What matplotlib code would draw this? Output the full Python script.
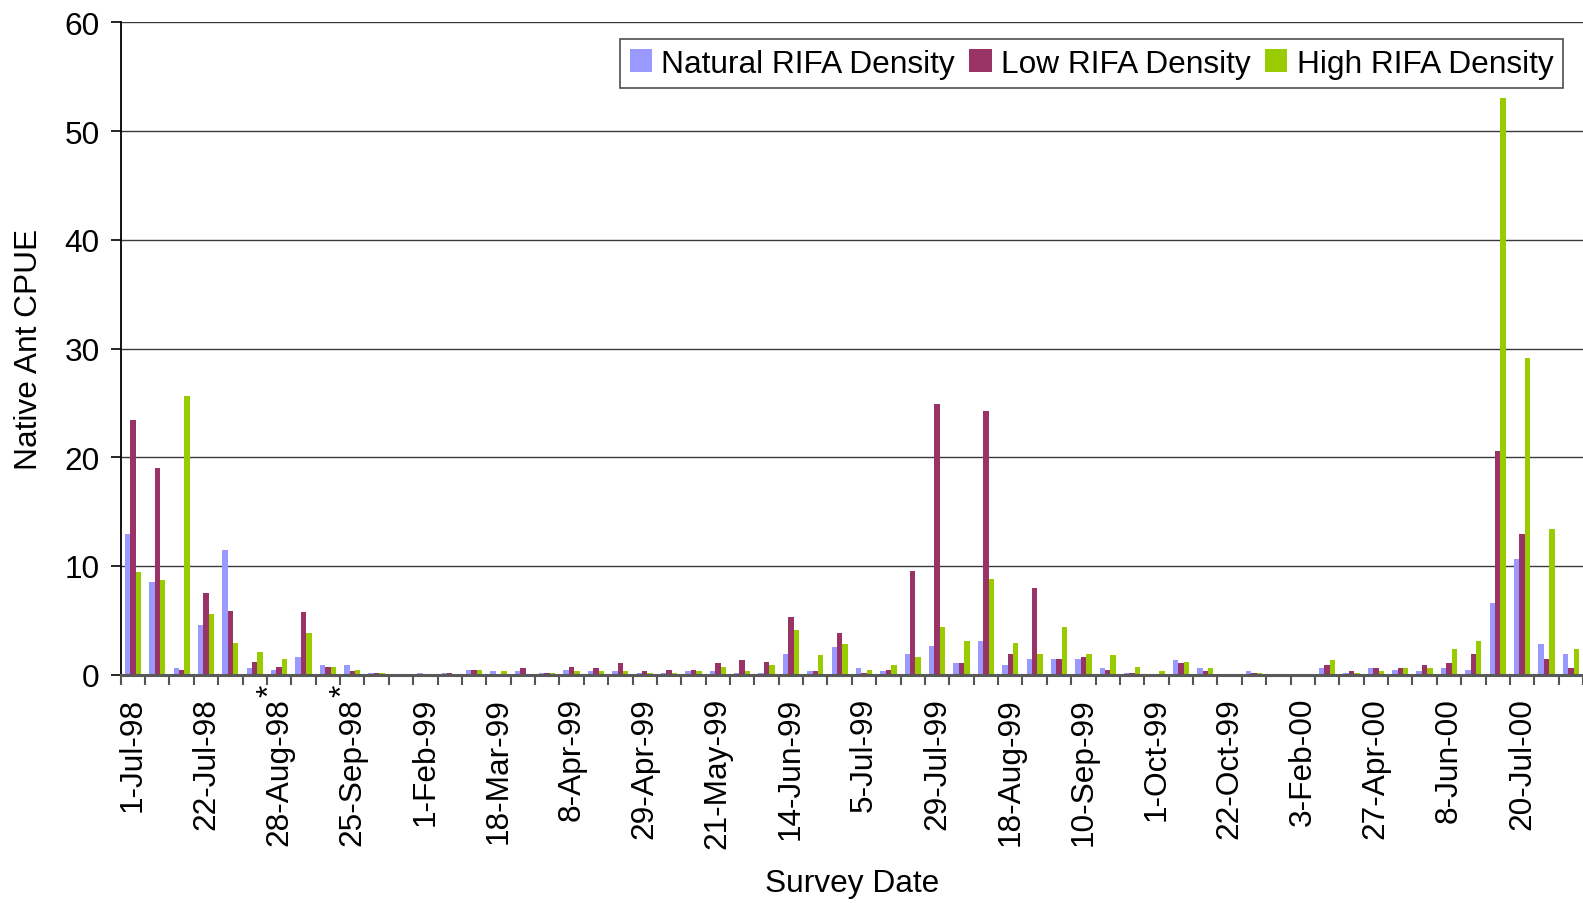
import numpy as np
import matplotlib
matplotlib.use("Agg")
import matplotlib.pyplot as plt
from matplotlib.patches import Patch

plt.rcParams['font.family'] = ['Liberation Sans', 'DejaVu Sans']

# ------------------------------------------------------------------------------
# survey data (native ant CPUE per survey, 60 surveys)
date_labels = ['1-Jul-98', '22-Jul-98', '28-Aug-98', '25-Sep-98', '1-Feb-99',
               '18-Mar-99', '8-Apr-99', '29-Apr-99', '21-May-99', '14-Jun-99',
               '5-Jul-99', '29-Jul-99', '18-Aug-99', '10-Sep-99', '1-Oct-99',
               '22-Oct-99', '3-Feb-00', '27-Apr-00', '8-Jun-00', '20-Jul-00']
label_step = 3  # one date label every 3 surveys
starred = [6, 9]  # surveys marked with an asterisk

natural = [12.9, 8.5, 0.6, 4.6, 11.5, 0.6, 0.4, 1.6, 0.9, 0.9,
           0.15, 0.0, 0.15, 0.15, 0.43, 0.34, 0.34, 0.15, 0.43, 0.34,
           0.34, 0.15, 0.15, 0.34, 0.34, 0.15, 0.15, 1.9, 0.34, 2.55,
           0.61, 0.34, 1.9, 2.64, 1.07, 3.1, 0.89, 1.44, 1.44, 1.44,
           0.61, 0.15, 0.0, 1.35, 0.61, 0.0, 0.34, 0.0, 0.0, 0.61,
           0.15, 0.61, 0.43, 0.34, 0.61, 0.46, 6.62, 10.67, 2.85, 1.9]
low = [23.4, 19.0, 0.4, 7.5, 5.9, 1.2, 0.7, 5.8, 0.7, 0.35,
       0.15, 0.0, 0.0, 0.15, 0.43, 0.0, 0.61, 0.15, 0.7, 0.61,
       1.07, 0.34, 0.43, 0.43, 1.07, 1.35, 1.17, 5.3, 0.34, 3.83,
       0.15, 0.43, 9.54, 24.9, 1.07, 24.26, 1.9, 7.98, 1.44, 1.63,
       0.43, 0.15, 0.0, 1.07, 0.34, 0.0, 0.15, 0.0, 0.0, 0.89,
       0.34, 0.61, 0.61, 0.89, 1.07, 1.9, 20.6, 12.96, 1.44, 0.63]
high = [9.45, 8.7, 25.6, 5.6, 2.9, 2.1, 1.4, 3.8, 0.7, 0.4,
        0.15, 0.0, 0.0, 0.0, 0.43, 0.34, 0.0, 0.15, 0.34, 0.34,
        0.34, 0.15, 0.15, 0.34, 0.7, 0.34, 0.89, 4.1, 1.8, 2.82,
        0.43, 0.89, 1.63, 4.39, 3.1, 8.8, 2.91, 1.9, 4.39, 1.9,
        1.81, 0.7, 0.34, 1.17, 0.61, 0.0, 0.15, 0.0, 0.0, 1.35,
        0.15, 0.34, 0.61, 0.61, 2.36, 3.1, 53.0, 29.15, 13.4, 2.36]

series_names = ['Natural RIFA Density', 'Low RIFA Density', 'High RIFA Density']
colors = ['#9999FF', '#993366', '#99CC00']

fs = 22.8
# ------------------------------------------------------------------------------
fig = plt.figure(figsize=(15.83, 9.04), dpi=100)
ax = fig.add_axes([120.7 / 1583, 1 - 675.7 / 904, 1 - 120.7 / 1583, (675.7 - 23.3) / 904])

n = len(natural)
x = np.arange(n)
w = 1 / 4.5  # excel style gap width of 150%
for k, (vals, c) in enumerate(zip([natural, low, high], colors)):
    ax.bar(x + (k - 1) * w, vals, width=w, color=c, zorder=3, linewidth=0)

ax.set_xlim(-0.5, n - 0.5)
ax.set_ylim(0, 60)
ax.set_yticks(np.arange(0, 61, 10))
ax.grid(axis='y', color='#3a3a3a', linewidth=1, zorder=0)

# date labels on every third survey, tick marks between every survey
ax.set_xticks(x[::label_step])
ax.set_xticklabels(date_labels, rotation=90, fontsize=fs)
ax.set_xticks(np.arange(n + 1) - 0.5, minor=True)
ax.tick_params(axis='x', which='major', length=0, pad=16)
ax.tick_params(axis='x', which='minor', length=7.2, width=1.5, color='#555555')
ax.tick_params(axis='y', length=7.2, width=1.2, pad=8, labelsize=fs)

for s in ['top', 'right']:
    ax.spines[s].set_visible(False)
ax.spines['left'].set_linewidth(1.3)
ax.spines['bottom'].set_color('#595959')
ax.spines['bottom'].set_linewidth(2.2)
ax.spines['bottom'].set_zorder(4)

for i in starred:
    ax.annotate('*', xy=(i, 0), xycoords=('data', 'axes fraction'),
                xytext=(-9, -21), textcoords='offset pixels',
                rotation=90, ha='center', va='bottom', fontsize=fs)

fig.text(29 / 1583, 1 - 349.5 / 904, 'Native Ant CPUE', rotation=90,
         ha='center', va='center', fontsize=fs)
fig.text(851.8 / 1583, 1 - 892 / 904, 'Survey Date', ha='center',
         va='baseline', fontsize=fs)

handles = [Patch(facecolor=c, edgecolor='none') for c in colors]
leg = fig.legend(handles, series_names, loc='upper right', ncol=3,
                 bbox_to_anchor=(1563 / 1583, 1 - 40 / 904), borderaxespad=0,
                 fontsize=fs, frameon=True, fancybox=False, shadow=False,
                 handlelength=0.7, handleheight=0.7, handletextpad=0.3,
                 columnspacing=0.45, borderpad=0.3)
leg.get_frame().set_edgecolor('#222222')
leg.get_frame().set_linewidth(1.2)

fig.savefig('out.png', dpi=100)
